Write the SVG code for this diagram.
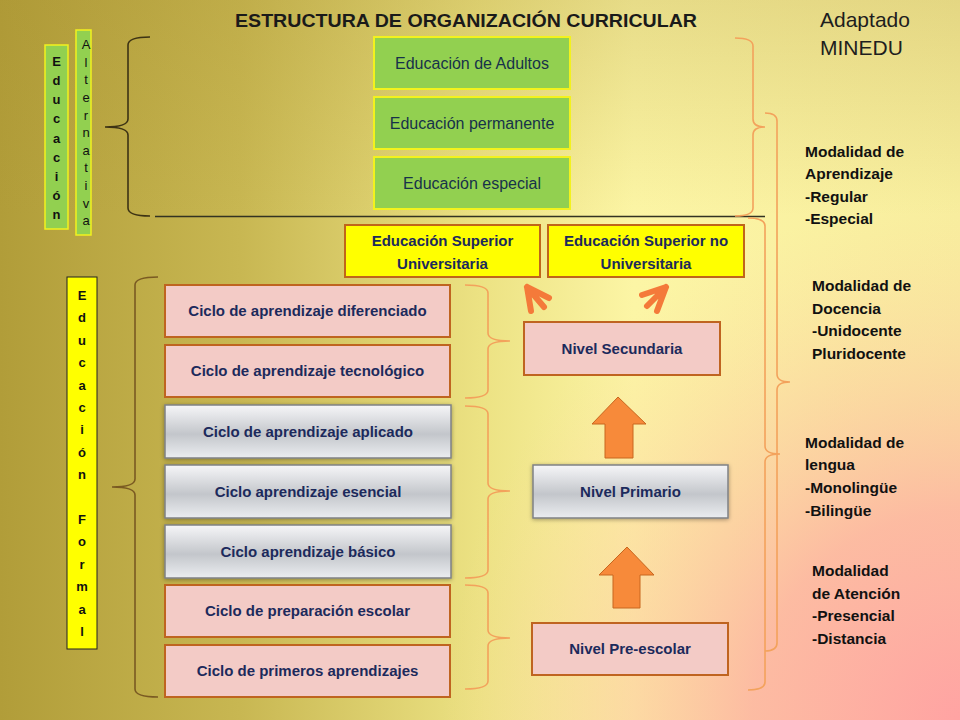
<svg xmlns="http://www.w3.org/2000/svg" width="960" height="720" viewBox="0 0 960 720">
<defs>
<linearGradient id="bg" x1="0" y1="0" x2="960" y2="0" gradientUnits="userSpaceOnUse">
<stop offset="0" stop-color="#b19d39"/>
<stop offset="0.25" stop-color="#c8b752"/>
<stop offset="0.5" stop-color="#ece283"/>
<stop offset="0.66" stop-color="#fcf5a5"/>
<stop offset="1" stop-color="#f8ee9e"/>
</linearGradient>
<radialGradient id="pink" cx="960" cy="720" r="520" gradientUnits="userSpaceOnUse">
<stop offset="0" stop-color="#ffa3a3" stop-opacity="1"/>
<stop offset="0.4" stop-color="#fdb2a2" stop-opacity="0.85"/>
<stop offset="1" stop-color="#fcd8a0" stop-opacity="0"/>
</radialGradient>
<linearGradient id="topshade" x1="0" y1="0" x2="0" y2="720" gradientUnits="userSpaceOnUse">
<stop offset="0" stop-color="#a89030" stop-opacity="0.25"/>
<stop offset="0.3" stop-color="#a89030" stop-opacity="0"/>
</linearGradient>
<linearGradient id="gray" x1="0" y1="0" x2="0" y2="1">
<stop offset="0" stop-color="#f6f6f8"/>
<stop offset="0.55" stop-color="#c3c6cb"/>
<stop offset="1" stop-color="#ebedf0"/>
</linearGradient>
<filter id="sh" x="-10%" y="-20%" width="120%" height="150%">
<feDropShadow dx="0" dy="1" stdDeviation="2" flood-color="#000" flood-opacity="0.35"/>
</filter>
<style>
.green{fill:#92d050;stroke:#f2f21e;stroke-width:2}
.yellow{fill:#ffff00;stroke:#c0651a;stroke-width:2}
.pinkbox{fill:#f3cbc6;stroke:#bf6420;stroke-width:2}
.graybox{fill:url(#gray);stroke:#7f8185;stroke-width:1.5;filter:url(#sh)}
.vgreen{fill:#92d050;stroke:#f2f21e;stroke-width:1.5}
.vyellow{fill:#ffff00;stroke:#222;stroke-width:1}
.t{font-family:"Liberation Sans",Arial,sans-serif}
.gt{font-family:"Liberation Sans",Arial,sans-serif;font-size:16px;fill:#17324a;text-anchor:middle}
.bt{font-family:"Liberation Sans",Arial,sans-serif;font-size:15px;font-weight:bold;fill:#1c2a5c;text-anchor:middle}
.mt{font-family:"Liberation Sans",Arial,sans-serif;font-size:15.5px;font-weight:bold;fill:#111}
.vl{font-family:"Liberation Sans",Arial,sans-serif;font-size:13px;fill:#111;text-anchor:middle}
.ob{fill:none;stroke:#f3a25c;stroke-width:1.6}
.db{fill:none;stroke-width:1.6}
.big{fill:#f78a3a;stroke:#c8661e;stroke-width:1}
.sm{fill:none;stroke:#f47a3a;stroke-width:6;stroke-linecap:round;stroke-linejoin:round}
</style>
</defs>

<rect width="960" height="720" fill="url(#bg)"/>
<rect width="960" height="720" fill="url(#topshade)"/>
<rect width="960" height="720" fill="url(#pink)"/>

<text class="t" x="235" y="27" font-size="19" font-weight="bold" fill="#1a1a1a" textLength="462" lengthAdjust="spacingAndGlyphs">ESTRUCTURA DE ORGANIZACIÓN CURRICULAR</text>
<text class="t" x="820" y="27" font-size="21" fill="#1e1e1e">Adaptado</text>
<text class="t" x="820" y="55" font-size="21" fill="#1e1e1e">MINEDU</text>

<g id="connectors">
<line x1="155" y1="216.5" x2="765" y2="216.5" stroke="#333322" stroke-width="1.3"/>
<path class="db" stroke="#3d3314" d="M150,37 Q128,37 128,45 L128,119 Q128,127 105,127 Q128,127 128,135 L128,208 Q128,216 150,216"/>
<path class="db" stroke="#7a5a22" d="M158,277 Q135,277 135,285 L135,479 Q135,487 112,487 Q135,487 135,495 L135,689 Q135,697 158,697"/>
<path class="ob" d="M465,285 Q488,285 488,293 L488,333 Q488,341 510,341 Q488,341 488,349 L488,390 Q488,398 465,398"/>
<path class="ob" d="M465,406 Q488,406 488,414 L488,483 Q488,491 510,491 Q488,491 488,499 L488,570 Q488,578 465,578"/>
<path class="ob" d="M465,585 Q488,585 488,593 L488,630 Q488,638 510,638 Q488,638 488,646 L488,681 Q488,689 465,689"/>
<path class="ob" d="M735,38 Q753,38 753,46 L753,119 Q753,127 765,127 Q753,127 753,135 L753,208 Q753,216 735,216"/>
<path class="ob" d="M765,113 Q777,113 777,121 L777,374 Q777,382 790,382 Q777,382 777,390 L777,643 Q777,651 765,651"/>
<path class="ob" d="M748,218 Q765,218 765,226 L765,446 Q765,454 780,454 Q765,454 765,462 L765,682 Q765,690 748,690"/>
<polygon class="big" points="618,397 646,424 633,424 633,458 605,458 605,424 592,424"/>
<polygon class="big" points="627,547 654,575 640,575 640,608 613,608 613,575 599,575"/>
<path class="sm" d="M549,298 L527,287 L531,311 M527,287 L544,307"/>
<path class="sm" d="M642,295 L666,287 L657,311 M666,287 L647,306"/>
</g>

<g id="n-edu-label">
<rect class="vgreen" x="45" y="45" width="23" height="184"/>
<g class="vl" font-weight="bold" font-size="12.5">
<text x="56.5" y="66">E</text><text x="56.5" y="85">d</text><text x="56.5" y="104">u</text><text x="56.5" y="123">c</text><text x="56.5" y="143">a</text><text x="56.5" y="162">c</text><text x="56.5" y="181">i</text><text x="56.5" y="200">ó</text><text x="56.5" y="219">n</text>
</g>
</g>
<g id="n-alt-label">
<rect class="vgreen" x="76" y="30" width="15" height="205"/>
<g class="vl" font-size="12.5">
<text x="86" y="49">A</text><text x="86" y="67">l</text><text x="86" y="84">t</text><text x="86" y="102">e</text><text x="86" y="120">r</text><text x="86" y="137">n</text><text x="86" y="155">a</text><text x="86" y="172">t</text><text x="86" y="190">i</text><text x="86" y="208">v</text><text x="86" y="225">a</text>
</g>
</g>
<g id="n-formal-label">
<rect class="vyellow" x="67" y="277" width="30" height="372"/>
<g class="vl" font-size="14" font-weight="bold">
<text x="82" y="300">E</text><text x="82" y="322">d</text><text x="82" y="345">u</text><text x="82" y="367">c</text><text x="82" y="390">a</text><text x="82" y="412">c</text><text x="82" y="434">i</text><text x="82" y="457">ó</text><text x="82" y="479">n</text><text x="82" y="524">F</text><text x="82" y="546">o</text><text x="82" y="569">r</text><text x="82" y="591">m</text><text x="82" y="614">a</text><text x="82" y="636">l</text>
</g>
</g>

<g id="n-adultos"><rect class="green" x="374" y="37" width="196" height="52"/><text class="gt" x="472" y="69">Educación de Adultos</text></g>
<g id="n-permanente"><rect class="green" x="374" y="97" width="196" height="52"/><text class="gt" x="472" y="129">Educación permanente</text></g>
<g id="n-especial"><rect class="green" x="374" y="157" width="196" height="52"/><text class="gt" x="472" y="189">Educación especial</text></g>

<g id="n-sup-univ"><rect class="yellow" x="345" y="225" width="195" height="52"/><text class="bt" x="442.5" y="246">Educación Superior</text><text class="bt" x="442.5" y="269">Universitaria</text></g>
<g id="n-sup-nouniv"><rect class="yellow" x="548" y="225" width="196" height="52"/><text class="bt" x="646" y="246">Educación Superior no</text><text class="bt" x="646" y="269">Universitaria</text></g>

<g id="n-diferenciado"><rect class="pinkbox" x="165" y="285" width="285" height="52"/><text class="bt" x="307.5" y="316">Ciclo de aprendizaje diferenciado</text></g>
<g id="n-tecnologico"><rect class="pinkbox" x="165" y="345" width="285" height="52"/><text class="bt" x="307.5" y="376">Ciclo de aprendizaje tecnológico</text></g>
<g id="n-aplicado"><rect class="graybox" x="165" y="405" width="286" height="53"/><text class="bt" x="308" y="437">Ciclo de aprendizaje aplicado</text></g>
<g id="n-esencial"><rect class="graybox" x="165" y="465" width="286" height="53"/><text class="bt" x="308" y="497">Ciclo aprendizaje esencial</text></g>
<g id="n-basico"><rect class="graybox" x="165" y="525" width="286" height="53"/><text class="bt" x="308" y="557">Ciclo aprendizaje básico</text></g>
<g id="n-preparacion"><rect class="pinkbox" x="165" y="585" width="285" height="52"/><text class="bt" x="307.5" y="616">Ciclo de preparación escolar</text></g>
<g id="n-primeros"><rect class="pinkbox" x="165" y="645" width="285" height="52"/><text class="bt" x="307.5" y="676">Ciclo de primeros aprendizajes</text></g>

<g id="n-secundaria"><rect class="pinkbox" x="524" y="322" width="196" height="53"/><text class="bt" x="622" y="354">Nivel Secundaria</text></g>
<g id="n-primario"><rect class="graybox" x="533" y="465" width="195" height="53"/><text class="bt" x="630.5" y="497">Nivel Primario</text></g>
<g id="n-preescolar"><rect class="pinkbox" x="532" y="623" width="196" height="52"/><text class="bt" x="630" y="654">Nivel Pre-escolar</text></g>

<g id="n-mod-aprendizaje" class="mt">
<text x="805" y="157">Modalidad de</text><text x="805" y="179">Aprendizaje</text><text x="805" y="202">-Regular</text><text x="805" y="224">-Especial</text>
</g>
<g id="n-mod-docencia" class="mt">
<text x="812" y="291">Modalidad de</text><text x="812" y="314">Docencia</text><text x="812" y="336">-Unidocente</text><text x="812" y="359">Pluridocente</text>
</g>
<g id="n-mod-lengua" class="mt">
<text x="805" y="448">Modalidad de</text><text x="805" y="470">lengua</text><text x="805" y="493">-Monolingüe</text><text x="805" y="516">-Bilingüe</text>
</g>
<g id="n-mod-atencion" class="mt">
<text x="812" y="576">Modalidad</text><text x="812" y="599">de Atención</text><text x="812" y="621">-Presencial</text><text x="812" y="644">-Distancia</text>
</g>
</svg>
